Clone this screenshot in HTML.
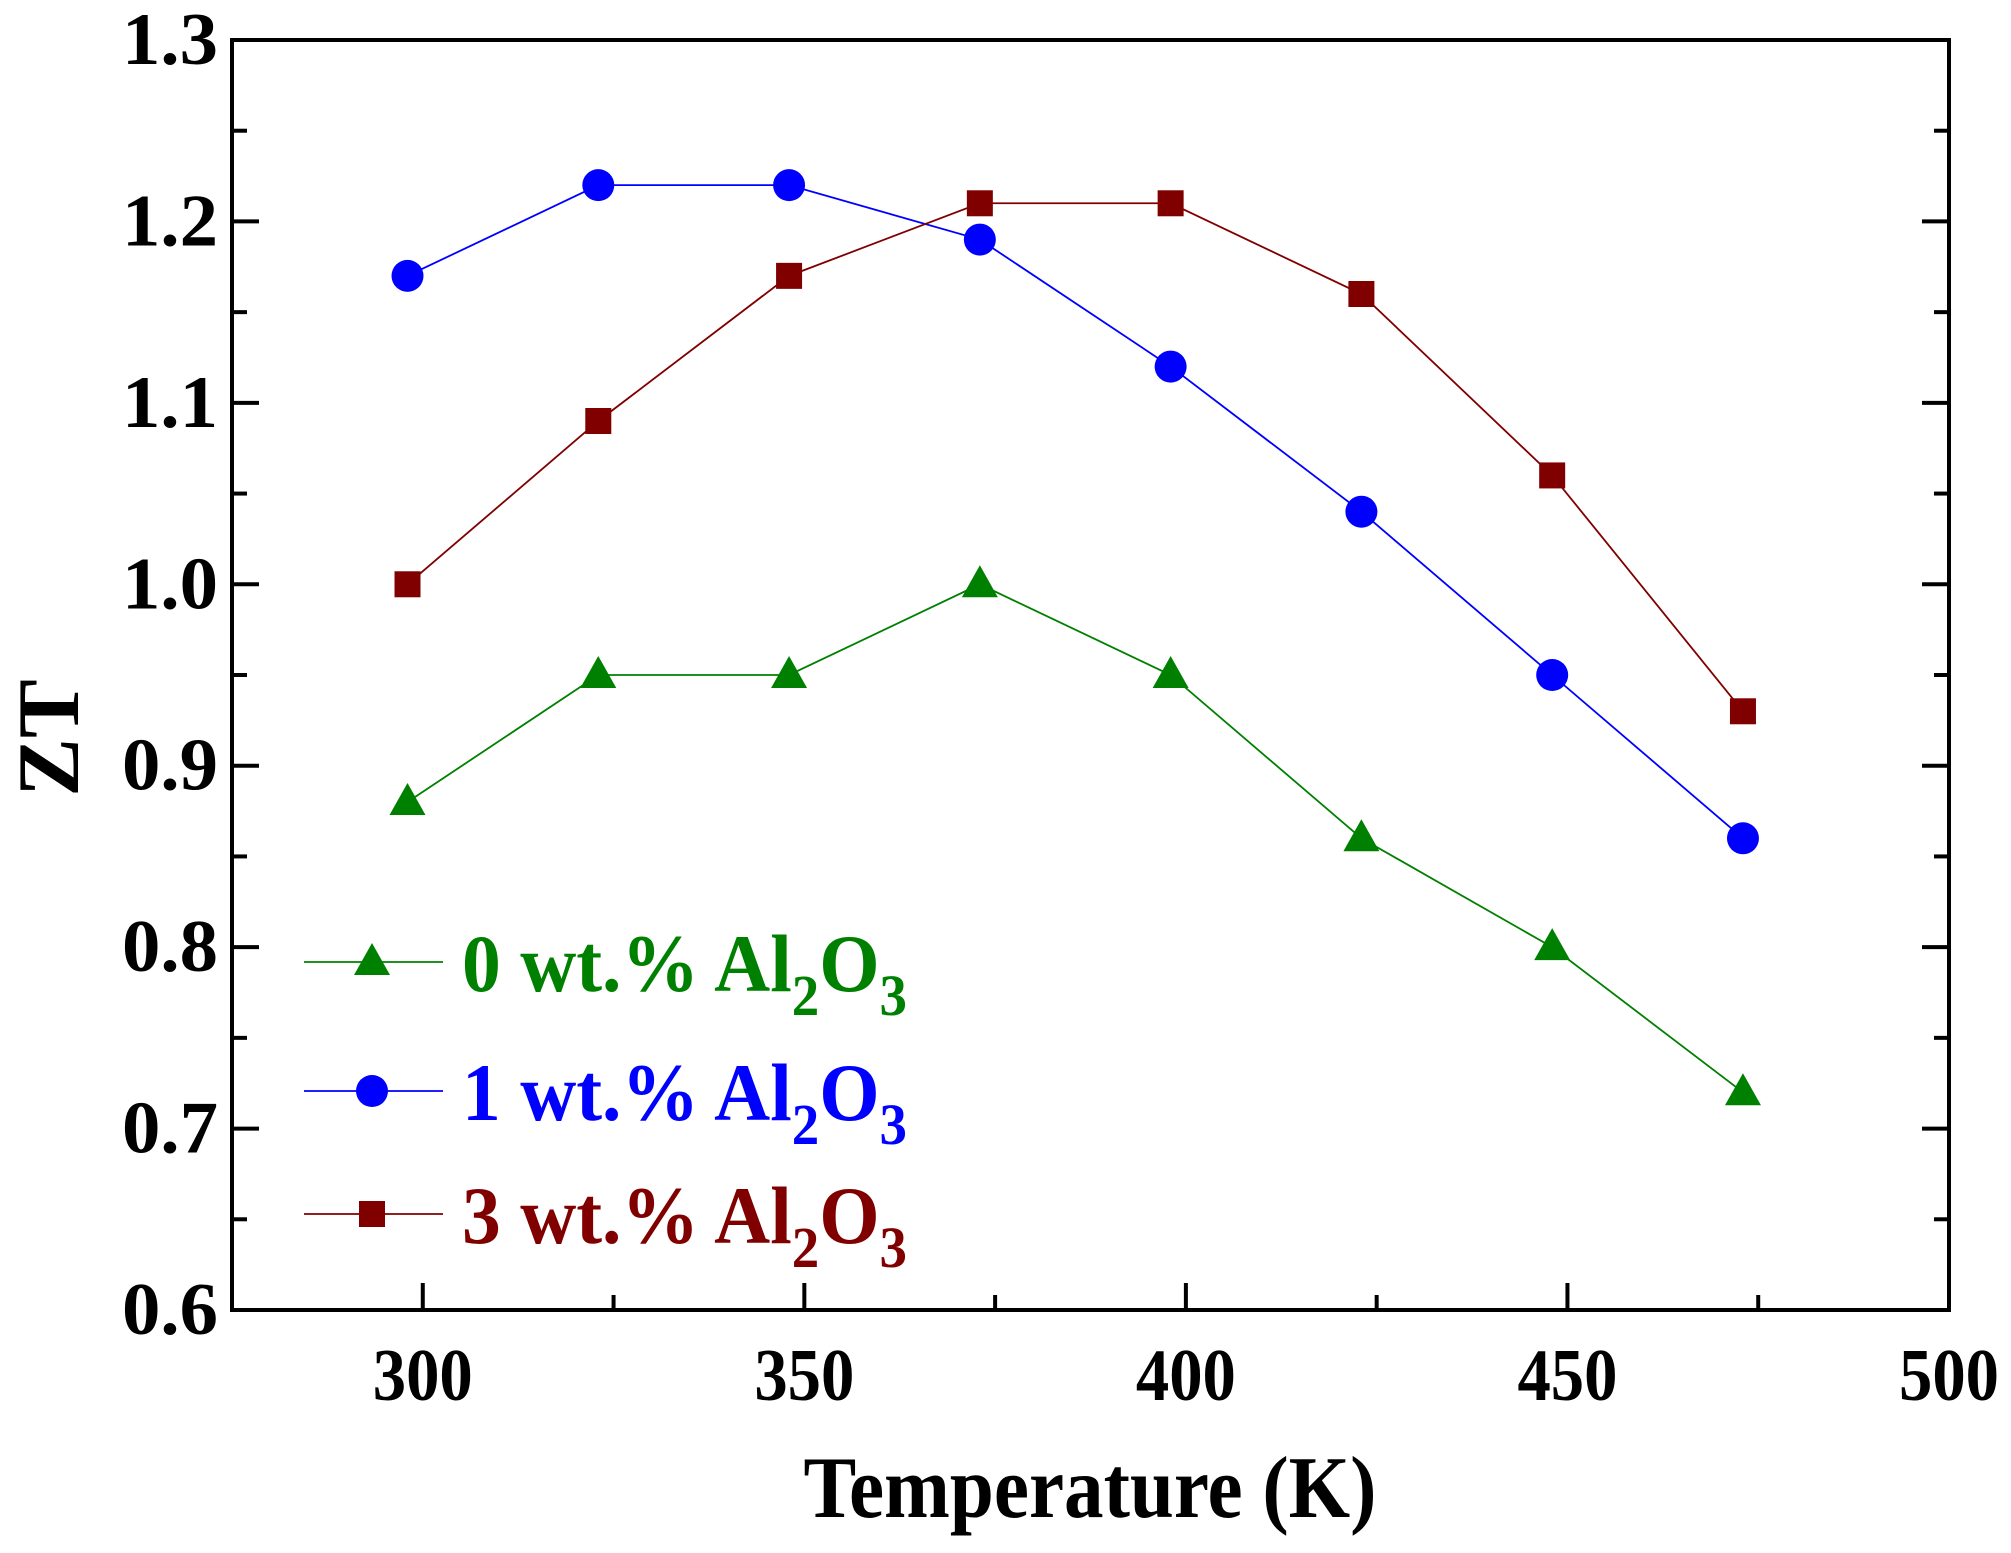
<!DOCTYPE html>
<html><head><meta charset="utf-8"><style>
html,body{margin:0;padding:0;background:#fff;}
svg{display:block;font-family:"Liberation Serif",serif;font-weight:bold;}
</style></head><body>
<svg id="chart" width="2011" height="1553" viewBox="0 0 2011 1553" xmlns="http://www.w3.org/2000/svg"></svg>
<script>
const temps = [298, 323, 348, 373, 398, 423, 448, 473];
const zt0 = [0.88, 0.95, 0.95, 1.00, 0.95, 0.86, 0.80, 0.72];
const zt1 = [1.17, 1.22, 1.22, 1.19, 1.12, 1.04, 0.95, 0.86];
const zt3 = [1.00, 1.09, 1.17, 1.21, 1.21, 1.16, 1.06, 0.93];
const xTicks = [300, 350, 400, 450, 500];
const yTicks = [0.6, 0.7, 0.8, 0.9, 1.0, 1.1, 1.2, 1.3];

const L = 232, R = 1949, T = 40, B = 1310;
const xMin = 275, xMax = 500, yMin = 0.6, yMax = 1.3;
const sx = v => L + (v - xMin) / (xMax - xMin) * (R - L);
const sy = v => B - (v - yMin) / (yMax - yMin) * (B - T);
const NS = "http://www.w3.org/2000/svg";
const svg = document.getElementById('chart');
function mk(tag, attrs, parent) {
  const e = document.createElementNS(NS, tag);
  for (const k in attrs) e.setAttribute(k, attrs[k]);
  (parent || svg).appendChild(e);
  return e;
}
const frame = mk('rect', {x: L, y: T, width: R - L, height: B - T, fill: 'none', stroke: '#000', 'stroke-width': 4});


xTicks.forEach(v => {
  const x = sx(v);
  const t = mk('line', {x1: x, x2: x, y1: B, y2: B - 27, stroke: '#000', 'stroke-width': 4});
  
  
  const lb = mk('text', {x: x, y: B + 90, 'text-anchor': 'middle', 'font-size': 74, textLength: 100, lengthAdjust: 'spacingAndGlyphs'});
  lb.textContent = v;
  
  
  const m = v - 25;
  if (m > xMin) {
    const mt = mk('line', {x1: sx(m), x2: sx(m), y1: B, y2: B - 15, stroke: '#000', 'stroke-width': 4});
    
    
  }
});
yTicks.forEach((v, i) => {
  const y = sy(v);
  [[L, L + 27], [R, R - 27]].forEach(p => {
    const t = mk('line', {x1: p[0], x2: p[1], y1: y, y2: y, stroke: '#000', 'stroke-width': 4});
    
    
  });
  if (i < yTicks.length - 1) {
    const ym = sy(v + 0.05);
    [[L, L + 15], [R, R - 15]].forEach(p => {
      const t = mk('line', {x1: p[0], x2: p[1], y1: ym, y2: ym, stroke: '#000', 'stroke-width': 4});
      
      
    });
  }
  const lb = mk('text', {x: 218, y: y + 24, 'text-anchor': 'end', 'font-size': 74, textLength: 96, lengthAdjust: 'spacingAndGlyphs'});
  lb.textContent = v.toFixed(1);
  
  
});
const xt = mk('text', {x: 1090, y: 1517, 'text-anchor': 'middle', 'font-size': 88, textLength: 573, lengthAdjust: 'spacingAndGlyphs'});
xt.textContent = 'Temperature (K)';


const yt = mk('text', {x: 0, y: 0, 'text-anchor': 'middle', 'font-size': 88, transform: 'translate(78,738) rotate(-90)'});
yt.textContent = 'ZT';



function marker(type, x, y, color, g) {
  let e;
  if (type === 'tri') e = mk('polygon', {points: `${x},${y-19} ${x-18},${y+13} ${x+18},${y+13}`, fill: color}, g);
  else if (type === 'circ') e = mk('circle', {cx: x, cy: y, r: 16, fill: color}, g);
  else e = mk('rect', {x: x - 13, y: y - 13, width: 26, height: 26, fill: color}, g);
  return e;
}
const series = [
  {name: 'series-0wt', vals: zt0, color: '#008000', m: 'tri', label: '0'},
  {name: 'series-1wt', vals: zt1, color: '#0000ff', m: 'circ', label: '1'},
  {name: 'series-3wt', vals: zt3, color: '#800000', m: 'sq', label: '3'}
];
series.forEach((s, si) => {
  const g = mk('g', {});
  
  
  const pts = temps.map((t, i) => sx(t) + ',' + sy(s.vals[i])).join(' ');
  mk('polyline', {points: pts, fill: 'none', stroke: s.color, 'stroke-width': 1.8}, g);
  temps.forEach((t, i) => {
    const p = marker(s.m, sx(t), sy(s.vals[i]), s.color, g);
    
    
  });
  const ly = [962, 1091, 1214][si];
  const lg = mk('g', {});
  
  
  mk('line', {x1: 304, x2: 443, y1: ly, y2: ly, stroke: s.color, 'stroke-width': 1.8}, lg);
  marker(s.m, 372, ly, s.color, lg);
  const tx = mk('text', {x: 462, y: ly + 29, fill: s.color, 'font-size': 82, textLength: 445, lengthAdjust: 'spacingAndGlyphs'}, lg);
  tx.appendChild(document.createTextNode(s.label + ' wt.% Al'));
  const sub1 = mk('tspan', {'font-size': 58, dy: 24}, tx); sub1.textContent = '2';
  const o = mk('tspan', {'font-size': 82, dy: -24}, tx); o.textContent = 'O';
  const sub2 = mk('tspan', {'font-size': 58, dy: 24}, tx); sub2.textContent = '3';
});
</script>
</body></html>
